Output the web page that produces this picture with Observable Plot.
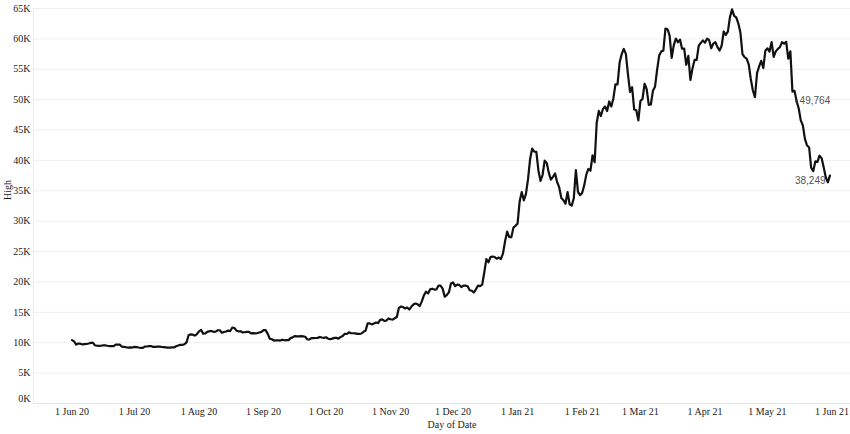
<!DOCTYPE html>
<html>
<head>
<meta charset="utf-8">
<script src="https://cdn.jsdelivr.net/npm/d3@7"></script>
<script src="https://cdn.jsdelivr.net/npm/@observablehq/plot@0.6"></script>
<style>
  html, body { margin: 0; padding: 0; background: #fff; }
</style>
</head>
<body>
<div id="chart"></div>
<script>
// Daily "High" values, 1 Jun 2020 – 31 May 2021
const jun20 = [10430, 10230, 9690, 9860, 9840, 9720, 9760, 9790, 9880, 9980, 10020, 9580, 9500, 9480, 9500, 9590, 9560, 9500, 9450, 9430, 9450, 9700, 9710, 9680, 9340, 9310, 9260, 9200, 9240, 9210];
const jul20 = [9320, 9280, 9210, 9160, 9160, 9380, 9380, 9450, 9460, 9310, 9310, 9350, 9350, 9310, 9280, 9250, 9200, 9210, 9240, 9230, 9410, 9550, 9650, 9640, 9750, 10060, 11240, 11380, 11330, 11170, 11430];
const aug20 = [11860, 12120, 11480, 11530, 11790, 11900, 11920, 11800, 11830, 12050, 12050, 11630, 11780, 11850, 11990, 11920, 12500, 12420, 11980, 11880, 11880, 11690, 11720, 11800, 11780, 11540, 11580, 11540, 11590, 11690, 11780];
const sep20 = [12060, 12070, 11460, 10660, 10580, 10360, 10390, 10410, 10350, 10500, 10400, 10440, 10430, 10760, 10880, 11100, 11040, 11040, 11090, 11050, 10990, 10540, 10530, 10750, 10770, 10780, 10800, 10950, 10860, 10800];
const oct20 = [10900, 10660, 10600, 10680, 10800, 10800, 10680, 10950, 11100, 11470, 11440, 11720, 11560, 11560, 11540, 11450, 11450, 11520, 11800, 11990, 13180, 13180, 13020, 13160, 13330, 13240, 13770, 13840, 13600, 13650, 14000];
const nov20 = [13860, 13810, 14030, 14230, 15740, 15960, 15860, 15640, 15790, 15460, 15950, 16310, 16450, 16320, 16020, 16800, 17800, 18390, 18110, 18780, 18890, 18750, 18770, 19390, 19400, 18900, 17570, 17850, 18280, 19750];
const dec20 = [19920, 19310, 19560, 19510, 19160, 19410, 19400, 19290, 18630, 18550, 18270, 18790, 19400, 19310, 19550, 21560, 23770, 23240, 24090, 24200, 24100, 23820, 24020, 23780, 24710, 26720, 28290, 27390, 27370, 28940, 29240];
const jan21 = [29600, 33300, 34790, 33440, 34440, 36880, 40180, 41950, 41440, 41420, 38350, 36630, 37600, 39970, 39580, 37950, 36850, 37300, 37850, 36420, 35550, 33810, 33460, 32880, 34800, 32790, 32560, 33780, 38400, 34830, 34290];
const feb21 = [34640, 35890, 37660, 38590, 38310, 40850, 39700, 46200, 48140, 47310, 48460, 48870, 48120, 49700, 48880, 50200, 52530, 52510, 56110, 57490, 58350, 57530, 54180, 51270, 52040, 48370, 48250, 46600];
const mar21 = [49780, 50130, 52620, 51740, 49150, 49200, 51450, 52120, 54900, 57260, 57940, 58040, 61680, 61590, 60570, 56870, 58930, 60040, 59450, 59880, 58380, 58420, 55740, 57200, 53240, 55140, 56540, 56560, 58870, 59340, 59750];
const apr21 = [59380, 60040, 59780, 58460, 59230, 59450, 58650, 58090, 58860, 61220, 60660, 61200, 63600, 64860, 63780, 63520, 62570, 61060, 57510, 57000, 56760, 55800, 53400, 51500, 50400, 54360, 55460, 56400, 55200, 58070];
const may21 = [58450, 57910, 59470, 57040, 57940, 58360, 58640, 59460, 59210, 59520, 56740, 57940, 51330, 51440, 49764, 48590, 46580, 45760, 43550, 42460, 42170, 38790, 38249, 39840, 39740, 40780, 40380, 38860, 37230, 36400, 37500];

const firstDay = "2020-06-01";
const high = [].concat(jun20, jul20, aug20, sep20, oct20, nov20, dec20, jan21, feb21, mar21, apr21, may21);

// Axis ticks
const xTickDates = ["2020-06-01","2020-07-01","2020-08-01","2020-09-01","2020-10-01","2020-11-01","2020-12-01","2021-01-01","2021-02-01","2021-03-01","2021-04-01","2021-05-01","2021-06-01"];
const xTickLabels = ["1 Jun 20","1 Jul 20","1 Aug 20","1 Sep 20","1 Oct 20","1 Nov 20","1 Dec 20","1 Jan 21","1 Feb 21","1 Mar 21","1 Apr 21","1 May 21","1 Jun 21"];
const yTicks = [0, 5000, 10000, 15000, 20000, 25000, 30000, 35000, 40000, 45000, 50000, 55000, 60000, 65000];
const yTickLabels = ["0K","5K","10K","15K","20K","25K","30K","35K","40K","45K","50K","55K","60K","65K"];

// Annotated points
const labelDates = ["2021-05-15", "2021-05-23"];
const labelTexts = ["49,764", "38,249"];

const serif = "'Liberation Serif', 'Times New Roman', serif";
const sans = "'Liberation Sans', Arial, sans-serif";

const start = new Date(firstDay + "T00:00:00Z");
const data = high.map((v, i) => ({date: d3.utcDay.offset(start, i), high: v}));
const xTicks = xTickDates.map(s => new Date(s + "T00:00:00Z"));
const xLab = new Map(xTicks.map((d, i) => [+d, xTickLabels[i]]));
const yLab = new Map(yTicks.map((v, i) => [v, yTickLabels[i]]));
const anno = labelDates.map((s, i) => {
  const d = new Date(s + "T00:00:00Z");
  const p = data.find(e => +e.date === +d);
  return {date: d, high: p.high, text: labelTexts[i]};
});

const chart = Plot.plot({
  width: 850,
  height: 434,
  marginLeft: 33,
  marginRight: 0,
  marginTop: 8,
  marginBottom: 31,
  style: {fontFamily: serif, fontSize: "10px", background: "#fff", color: "#222"},
  x: {type: "utc", domain: [xTicks[0], xTicks[xTicks.length - 1]], range: [71.5, 831.5]},
  y: {domain: [0, 65000]},
  marks: [
    Plot.ruleY(yTicks.slice(1), {stroke: "#efefef", strokeWidth: 1}),
    Plot.ruleY([0], {stroke: "#e4e4e4", strokeWidth: 1}),
    Plot.frame({anchor: "left", stroke: "#ececec"}),
    Plot.axisY(yTicks.slice(1), {tickSize: 0, tickPadding: 3, tickFormat: v => yLab.get(v), label: null, fill: "#222", fontFamily: serif, fontSize: 10}),
    Plot.axisY([0], {tickSize: 0, tickPadding: 3, tickFormat: v => yLab.get(v), label: null, dy: -5, fill: "#222", fontFamily: serif, fontSize: 10}),
    Plot.text(["High"], {frameAnchor: "left", dx: -26, dy: -6, rotate: -90, fontSize: 10, fill: "#222", fontFamily: serif}),
    Plot.axisX(xTicks, {tickSize: 0, tickPadding: 4, tickFormat: d => xLab.get(+d), label: null, fill: "#222", fontFamily: serif, fontSize: 10}),
    Plot.text(["Day of Date"], {frameAnchor: "bottom", dx: 10, dy: 24, fontSize: 10, fill: "#222", fontFamily: serif}),
    Plot.line(data, {x: "date", y: "high", stroke: "#111", strokeWidth: 2.2, curve: "linear"}),
    Plot.dot([anno[0]], {x: "date", y: "high", r: 1.4, fill: "#333", stroke: null}),
    Plot.text([anno[0]], {x: "date", y: "high", text: "text", textAnchor: "start", dx: 3, dy: 0, fontFamily: sans, fontSize: 10, fill: "#555"}),
    Plot.text([anno[1]], {x: "date", y: "high", text: "text", textAnchor: "middle", dx: -3, dy: 10, fontFamily: sans, fontSize: 10, fill: "#555"})
  ]
});
document.getElementById("chart").appendChild(chart);
</script>
</body>
</html>
